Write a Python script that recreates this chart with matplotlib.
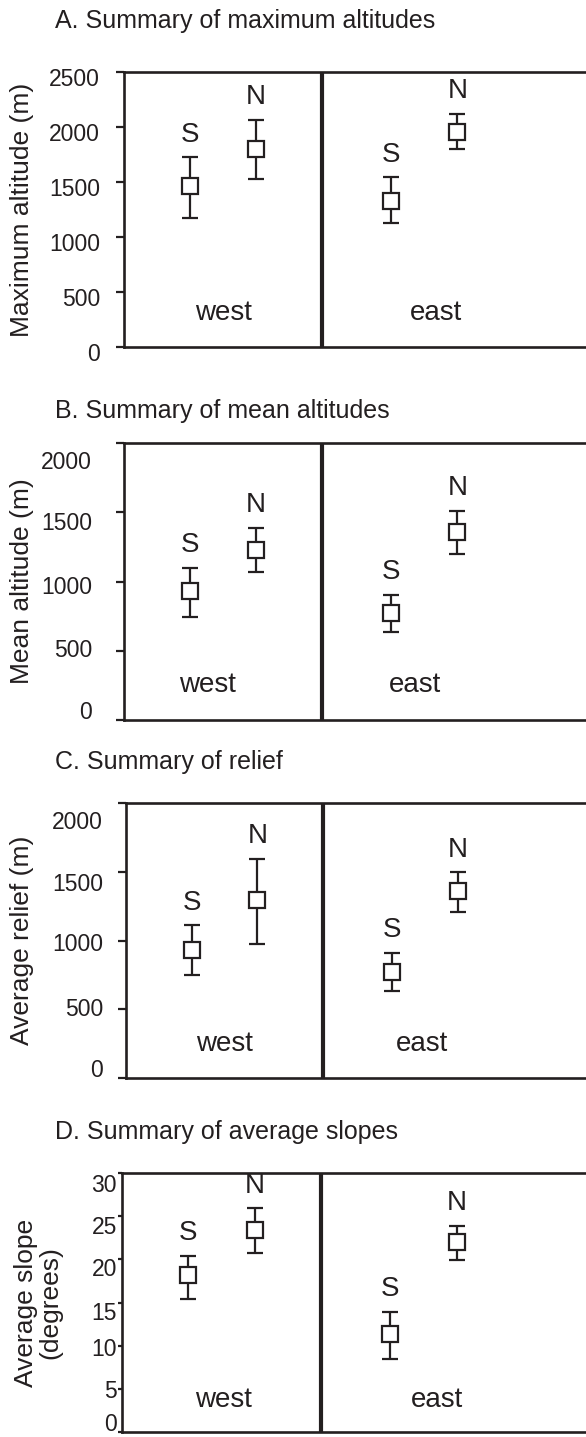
import matplotlib
matplotlib.use("Agg")
import matplotlib.pyplot as plt
from matplotlib.transforms import ScaledTranslation

plt.rcParams['font.family'] = ['Liberation Sans', 'DejaVu Sans']

INK = '#231f20'

# ---------------- data ----------------
groups = ['S', 'N', 'S', 'N']          # west S, west N, east S, east N
regions = ['west', 'east']

titles = ['A. Summary of maximum altitudes',
          'B. Summary of mean altitudes',
          'C. Summary of relief',
          'D. Summary of average slopes']
ylabels = ['Maximum altitude (m)', 'Mean altitude (m)',
           'Average relief (m)', 'Average slope\n(degrees)']

max_alt_mean = [1465, 1800, 1330, 1957]
max_alt_low = [1173, 1527, 1124, 1797]
max_alt_high = [1724, 2067, 1543, 2118]

mean_alt_mean = [935, 1224, 776, 1357]
mean_alt_low = [742, 1068, 636, 1202]
mean_alt_high = [1101, 1386, 906, 1511]

relief_mean = [928, 1297, 768, 1357]
relief_low = [749, 977, 630, 1204]
relief_high = [1110, 1593, 909, 1495]

slope_mean = [18.2, 23.4, 11.4, 22.0]
slope_low = [15.4, 20.7, 8.5, 19.9]
slope_high = [20.4, 25.9, 13.9, 23.9]

yticks_alt_max = [0, 500, 1000, 1500, 2000, 2500]
yticks_alt = [0, 500, 1000, 1500, 2000]
yticks_slope = [0, 5, 10, 15, 20, 25, 30]

panels = [
    (max_alt_mean, max_alt_low, max_alt_high, yticks_alt_max),
    (mean_alt_mean, mean_alt_low, mean_alt_high, yticks_alt),
    (relief_mean, relief_low, relief_high, yticks_alt),
    (slope_mean, slope_low, slope_high, yticks_slope),
]

# ---------------- layout / style ----------------
W, H = 586, 1437
fig = plt.figure(figsize=(W / 100, H / 100), dpi=100)

# axes pixel boxes: left, top, bottom
boxes = [(124, 72, 347), (124, 443, 720), (126, 803, 1078), (122, 1173, 1432)]
title_y = [28, 418, 769, 1139]
xpos = [1.0, 2.0, 4.05, 5.05]
divider_x = 3.0
region_x = [(1.5, 4.73), (1.27, 4.41), (1.5, 4.5), (1.53, 4.75)]
region_y = 0.125
ylabel_x = [22, 22, 22, 38]
tick_len = [8, 8, 8, 4]
tick_pad = [16, 24, 15, 1]
# vertical shift (px, downwards) of each tick label, as in the original
label_shift = [[5, 5, 5, 5, 5, 5],
               [-10, -3, 3, 9, 17],
               [-10, -2, 2, 10, 17],
               [-10, 0, 1, 8, 8, 9, 10]]

for i, (means, lows, highs, ticks) in enumerate(panels):
    L, T, B = boxes[i]
    ax = fig.add_axes([L / W, 1 - B / H, (W - L) / W, (B - T) / H])
    ax.set_xlim(0, 7)
    ax.set_ylim(ticks[0], ticks[-1])

    yerr = [[m - lo for m, lo in zip(means, lows)],
            [hi - m for m, hi in zip(means, highs)]]
    ax.errorbar(xpos, means, yerr=yerr, fmt='none', ecolor=INK,
                elinewidth=1.6, capsize=5.5, capthick=1.6, zorder=2)
    ax.plot(xpos, means, linestyle='none', marker='s', markersize=11.5,
            markerfacecolor='white', markeredgecolor=INK,
            markeredgewidth=1.6, zorder=3)

    for x, hi, g in zip(xpos, highs, groups):
        ax.annotate(g, (x, hi), xytext=(0, 7), textcoords='offset points',
                    ha='center', va='bottom', fontsize=20, color=INK)

    ax.axvline(divider_x, color=INK, lw=3.0, zorder=1)
    for rx, r in zip(region_x[i], regions):
        ax.text(rx, region_y, r, transform=ax.get_xaxis_transform(),
                ha='center', va='center', fontsize=20, color=INK)

    for s in ['left', 'bottom', 'top']:
        ax.spines[s].set_linewidth(1.9)
        ax.spines[s].set_color(INK)
    ax.spines['right'].set_visible(False)

    ax.set_xticks([])
    ax.set_yticks(ticks)
    ax.set_yticklabels([str(t) for t in ticks])
    ax.tick_params(axis='y', length=tick_len[i] * 0.72, width=1.6,
                   color=INK, labelcolor=INK, labelsize=16.5,
                   pad=tick_pad[i] * 0.72)
    for lab, sh in zip(ax.get_yticklabels(), label_shift[i]):
        lab.set_transform(lab.get_transform() +
                          ScaledTranslation(0, -sh / 100, fig.dpi_scale_trans))

    ax.set_ylabel(ylabels[i], fontsize=19, color=INK,
                  linespacing=1.0, va='center', ha='center')
    ax.yaxis.set_label_coords((ylabel_x[i] - L) / (W - L), 0.5)

    fig.text(55 / W, 1 - title_y[i] / H, titles[i], fontsize=18,
             color=INK, ha='left', va='baseline')

fig.savefig('out.png', dpi=100)
